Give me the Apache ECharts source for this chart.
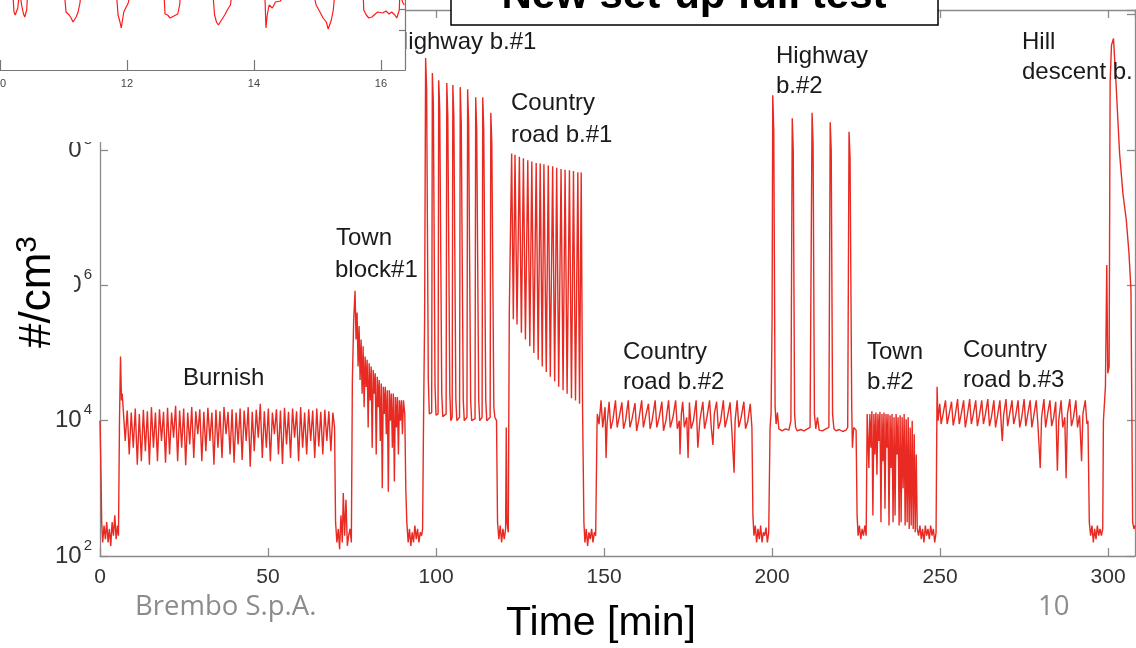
<!DOCTYPE html>
<html>
<head>
<meta charset="utf-8">
<script src="https://cdn.jsdelivr.net/npm/echarts@6/dist/echarts.min.js"></script>
<style>
html, body { margin: 0; padding: 0; background: #fff; }
#chart { width: 1136px; height: 648px; }
</style>
</head>
<body>
<div id="chart"></div>
<script>
// main trace: [time (min), log10 of concentration (#/cm3)]
const startBase = [[0, 4.0], [0.3, 3.2], [0.5, 2.5], [0.8, 2.2], [1.2, 2.45], [1.6, 2.25], [2.0, 2.5], [2.4, 2.2], [2.8, 2.4], [3.2, 2.15], [3.6, 2.5], [4.0, 2.3], [4.4, 2.6], [4.8, 2.25], [5.2, 2.45], [5.5, 2.3], [5.8, 4.0], [6.1, 4.95], [6.4, 4.3]]

const burnish = [[6.6, 4.4], [7.0, 4.1], [7.5, 3.7], [8.1, 4.15], [8.7, 3.5], [9.3, 4.12], [9.9, 3.6], [10.5, 4.18], [11.1, 3.35], [11.7, 4.1], [12.3, 3.4], [12.9, 4.16], [13.5, 3.55], [14.1, 4.14], [14.7, 3.35], [15.3, 4.2], [15.9, 3.6], [16.5, 4.12], [17.1, 3.4], [17.7, 4.17], [18.3, 3.7], [18.9, 4.13], [19.5, 3.38], [20.1, 4.19], [20.7, 3.5], [21.3, 4.12], [21.9, 3.75], [22.5, 4.22], [23.1, 3.4], [23.7, 4.15], [24.3, 3.6], [24.9, 4.18], [25.5, 3.34], [26.1, 4.12], [26.7, 3.65], [27.3, 4.2], [27.9, 3.45], [28.5, 4.14], [29.1, 3.8], [29.7, 4.17], [30.3, 3.4], [30.9, 4.13], [31.5, 3.55], [32.1, 4.19], [32.7, 3.7], [33.3, 4.12], [33.9, 3.35], [34.5, 4.16], [35.1, 3.6], [35.7, 4.14], [36.3, 3.45], [36.9, 4.2], [37.5, 3.8], [38.1, 4.13], [38.7, 3.5], [39.3, 4.17], [39.9, 3.38], [40.5, 4.12], [41.1, 3.65], [41.7, 4.18], [42.3, 3.42], [42.9, 4.15], [43.5, 3.7], [44.1, 4.2], [44.7, 3.32], [45.3, 4.13], [45.9, 3.55], [46.5, 4.16], [47.1, 3.75], [47.7, 4.25], [48.3, 3.45], [48.9, 4.14], [49.5, 3.6], [50.1, 4.18], [50.7, 3.4], [51.3, 4.12], [51.9, 3.8], [52.5, 4.17], [53.1, 3.5], [53.7, 4.15], [54.3, 3.36], [54.9, 4.19], [55.5, 3.65], [56.1, 4.13], [56.7, 3.45], [57.3, 4.18], [57.9, 3.75], [58.5, 4.14], [59.1, 3.4], [59.7, 4.2], [60.3, 3.6], [60.9, 4.12], [61.5, 3.5], [62.1, 4.17], [62.7, 3.7], [63.3, 4.15], [63.9, 3.45], [64.5, 4.18], [65.1, 3.62], [65.7, 4.13], [66.3, 3.5], [66.9, 4.16], [67.5, 3.7], [68.1, 4.14], [68.7, 3.55], [69.3, 4.12], [69.8, 3.9]]

const gapAfterBurnish = [[70.1, 2.5], [70.5, 2.2], [70.9, 2.4], [71.3, 2.1], [71.7, 2.6], [72.1, 2.2], [72.4, 2.93], [72.8, 2.3], [73.2, 2.83], [73.6, 2.15], [74.0, 2.3], [74.4, 2.4], [74.8, 2.2]]

const townBlock1 = [[75.1, 4.6], [75.5, 5.5], [75.9, 5.92], [76.2, 5.2], [76.5, 5.6], [76.8, 4.8], [77.1, 5.4], [77.4, 4.6], [77.7, 5.2], [78.0, 4.4], [78.3, 5.1], [78.6, 4.2], [78.9, 4.95], [79.2, 4.5], [79.5, 4.9], [79.8, 3.9], [80.1, 4.85], [80.4, 4.3], [80.7, 4.8], [81.0, 3.6], [81.3, 4.75], [81.6, 4.4], [81.9, 4.7], [82.2, 3.5], [82.5, 4.65], [82.8, 4.2], [83.1, 4.6], [83.4, 3.7], [83.7, 4.55], [84.0, 3.0], [84.3, 4.5], [84.6, 4.1], [84.9, 4.5], [85.2, 3.8], [85.5, 4.45], [85.8, 2.95], [86.1, 4.45], [86.4, 4.0], [86.7, 4.4], [87.0, 3.6], [87.3, 4.4], [87.6, 3.1], [87.9, 4.35], [88.2, 3.9], [88.5, 4.35], [88.8, 3.5], [89.1, 4.3], [89.4, 4.0], [89.7, 4.3], [90.0, 3.8], [90.3, 4.3], [90.7, 4.1], [91.0, 3.0]]

const gapAfterTown1 = [[91.3, 2.5], [91.7, 2.2], [92.1, 2.4], [92.5, 2.15], [92.9, 2.35], [93.3, 2.2], [93.7, 2.45], [94.1, 2.25], [94.5, 2.4], [94.9, 2.2], [95.3, 2.35], [95.7, 2.3]]

const highway1 = [[96.0, 2.4], [96.3, 4.1], [96.6, 5.5], [96.9, 9.36], [97.2, 8.9], [97.7, 4.6], [98.0, 4.1], [98.7, 4.12], [98.9, 9.14], [99.2, 8.7], [99.7, 4.5], [100.0, 4.08], [100.6, 4.1], [100.8, 9.03], [101.1, 8.6], [101.7, 4.4], [102.0, 4.06], [103.0, 4.1], [103.2, 8.99], [103.5, 8.5], [104.1, 4.4], [104.4, 4.0], [104.8, 4.05], [105.0, 8.96], [105.3, 8.5], [105.9, 4.3], [106.2, 4.0], [107.0, 4.05], [107.2, 8.93], [107.5, 8.4], [108.1, 4.3], [108.4, 4.0], [109.2, 4.05], [109.4, 8.9], [109.7, 8.4], [110.3, 4.3], [110.6, 4.0], [111.6, 4.03], [111.8, 8.78], [112.1, 8.3], [112.7, 4.3], [113.0, 4.0], [113.7, 4.05], [113.9, 8.78], [114.2, 8.3], [114.8, 4.3], [115.1, 4.0], [116.1, 4.05], [116.3, 8.55], [116.6, 8.1], [117.2, 4.2], [117.5, 4.05], [118.0, 4.0]]

const gapAfterHighway1 = [[118.3, 2.5], [118.7, 2.25], [119.1, 2.45], [119.5, 2.2], [119.9, 2.4], [120.3, 2.25], [120.7, 2.4], [120.9, 3.9], [121.1, 2.5], [121.5, 2.35]]

const countryRoad1 = [[121.8, 5.6], [122.5, 7.95], [123.0, 5.5], [123.5, 7.93], [124.1, 5.42], [124.8, 7.9], [125.4, 5.3], [126.0, 7.88], [126.6, 5.2], [127.3, 7.85], [127.9, 5.1], [128.5, 7.83], [129.1, 5.0], [129.8, 7.81], [130.4, 4.9], [131.0, 7.8], [131.6, 4.8], [132.1, 7.79], [132.8, 4.72], [133.4, 7.77], [134.0, 4.65], [134.7, 7.76], [135.3, 4.58], [135.9, 7.74], [136.5, 4.5], [137.2, 7.72], [137.8, 4.45], [138.4, 7.71], [139.0, 4.4], [139.7, 7.7], [140.3, 4.33], [140.9, 7.69], [141.5, 4.3], [142.2, 7.67], [142.7, 4.25], [143.2, 7.67], [143.6, 4.2], [144.0, 2.5]]

const gapAfterCountry1 = [[144.3, 2.2], [144.7, 2.4], [145.1, 2.15], [145.5, 2.35], [145.9, 2.25], [146.3, 2.4], [146.7, 2.2], [147.1, 2.35], [147.5, 2.3]]

const countryRoad2 = [[147.9, 3.9], [148.0, 4.1], [148.5, 3.95], [149.1, 4.3], [149.6, 3.9], [150.3, 4.2], [150.6, 3.45], [150.9, 3.95], [151.5, 4.28], [152.0, 3.88], [152.6, 4.0], [153.4, 4.3], [153.9, 3.9], [154.5, 4.05], [155.3, 4.27], [155.8, 3.88], [156.4, 4.0], [157.2, 4.3], [157.7, 3.9], [158.3, 4.02], [159.2, 4.26], [159.7, 3.85], [160.3, 4.0], [161.2, 4.3], [161.7, 3.9], [162.3, 4.05], [163.2, 4.25], [163.7, 3.88], [164.3, 4.0], [165.2, 4.3], [165.7, 3.9], [166.4, 4.05], [167.2, 4.28], [167.7, 3.85], [168.4, 4.0], [169.2, 4.3], [169.7, 3.9], [170.5, 4.05], [171.3, 4.3], [171.8, 3.88], [172.4, 4.0], [172.6, 3.5], [173.0, 4.1], [173.4, 4.28], [173.9, 3.9], [174.6, 4.05], [175.0, 3.45], [175.4, 4.27], [175.9, 3.88], [176.6, 4.0], [177.4, 4.3], [177.9, 3.6], [178.5, 4.0], [179.4, 4.28], [179.9, 3.88], [180.6, 4.05], [181.4, 4.3], [181.9, 3.9], [182.4, 3.64], [182.8, 4.1], [183.5, 4.28], [184.0, 3.88], [184.7, 4.0], [185.5, 4.3], [186.0, 3.9], [186.7, 4.05], [187.5, 4.27], [188.0, 3.88], [188.7, 3.23], [189.0, 4.0], [189.6, 4.3], [190.1, 3.9], [190.8, 4.05], [191.6, 4.28], [192.1, 3.88], [192.8, 4.0], [193.5, 4.25], [194.0, 3.9]]

const gapAfterCountry2 = [[194.3, 2.6], [194.6, 2.3], [195.0, 2.45], [195.4, 2.2], [195.8, 2.4], [196.2, 2.25], [196.6, 2.45], [197.0, 2.2], [197.4, 2.35], [197.8, 2.3], [198.2, 2.42], [198.6, 2.2], [199.0, 2.35], [199.4, 3.9]]

const highway2 = [[199.7, 4.1], [200.0, 5.5], [200.2, 8.81], [200.5, 8.3], [200.9, 4.2], [201.2, 3.95], [201.6, 4.12], [202.0, 3.88], [203.0, 3.85], [204.0, 3.88], [205.0, 3.86], [205.6, 4.0], [206.0, 8.47], [206.3, 8.0], [206.7, 4.1], [207.0, 3.9], [207.5, 3.85], [208.5, 3.87], [209.5, 3.85], [210.5, 3.88], [211.3, 3.9], [211.9, 8.55], [212.2, 8.1], [212.6, 4.1], [213.0, 3.88], [213.5, 4.05], [214.0, 3.86], [215.0, 3.85], [216.0, 3.88], [216.9, 3.9], [217.3, 8.41], [217.6, 8.0], [218.0, 4.1], [218.4, 3.88], [219.0, 3.85], [220.0, 3.87], [221.0, 3.84], [222.0, 3.86], [222.5, 3.9], [222.9, 8.27], [223.2, 7.9], [223.7, 4.2], [223.9, 3.6], [224.3, 3.9], [225.0, 3.86]]

const gapAfterHighway2 = [[225.3, 2.6], [225.6, 2.3], [226.0, 2.45], [226.4, 2.25], [226.8, 2.4], [227.2, 2.3], [227.6, 2.45], [228.0, 2.3]]

const town2 = [[228.3, 4.1], [228.5, 4.12], [228.8, 3.3], [229.1, 4.1], [229.4, 3.6], [229.7, 4.14], [230.0, 2.6], [230.3, 4.1], [230.6, 3.5], [230.9, 4.12], [231.2, 3.2], [231.5, 4.1], [231.8, 3.7], [232.1, 4.13], [232.4, 2.5], [232.7, 4.1], [233.0, 3.4], [233.3, 4.12], [233.6, 2.7], [233.9, 4.1], [234.2, 3.6], [234.5, 4.1], [234.8, 2.45], [235.1, 4.08], [235.4, 3.3], [235.7, 4.1], [236.0, 2.5], [236.3, 4.05], [236.6, 2.6], [236.9, 4.1], [237.2, 3.5], [237.5, 4.05], [237.8, 2.45], [238.1, 4.08], [238.4, 2.5], [238.7, 4.05], [239.0, 3.0], [239.3, 4.1], [239.6, 2.45], [239.9, 4.02], [240.2, 2.5], [240.5, 4.05], [240.8, 2.4], [241.1, 3.9], [241.4, 2.45], [241.7, 4.0], [242.0, 2.4], [242.3, 3.8], [242.6, 2.35], [242.9, 3.5], [243.2, 2.4], [243.6, 2.3]]

const gapAfterTown2 = [[244.0, 2.45], [244.4, 2.25], [244.8, 2.4], [245.2, 2.2], [245.6, 2.45], [246.0, 2.3], [246.4, 2.4], [246.8, 2.25], [247.2, 2.45], [247.6, 2.3], [248.0, 2.4], [248.4, 2.2], [248.8, 2.35], [249.1, 4.5]]

const countryRoad3 = [[249.4, 4.0], [249.9, 4.25], [250.3, 3.95], [250.9, 4.1], [251.6, 4.3], [252.1, 3.95], [252.7, 4.1], [253.4, 4.28], [253.9, 3.93], [254.5, 4.08], [255.2, 4.32], [255.7, 3.95], [256.3, 4.1], [257.0, 4.3], [257.5, 3.9], [258.1, 4.08], [258.8, 4.32], [259.3, 3.95], [259.9, 4.1], [260.6, 4.3], [261.1, 3.92], [261.7, 4.08], [262.4, 4.3], [262.9, 3.95], [263.5, 4.1], [264.2, 4.32], [264.7, 3.92], [265.3, 4.06], [266.0, 4.3], [266.5, 3.9], [267.1, 4.08], [267.8, 4.3], [268.3, 3.85], [268.5, 3.7], [268.9, 4.08], [269.6, 4.32], [270.1, 3.92], [270.7, 4.1], [271.4, 4.3], [271.9, 3.95], [272.5, 4.08], [273.2, 4.3], [273.7, 3.9], [274.3, 4.05], [275.0, 4.32], [275.5, 3.92], [276.1, 4.1], [276.8, 4.3], [277.3, 3.9], [277.9, 4.08], [278.6, 4.3], [279.1, 3.95], [279.8, 3.3], [280.2, 4.05], [280.9, 4.32], [281.4, 3.9], [282.0, 4.1], [282.7, 4.3], [283.2, 3.92], [283.8, 4.05], [284.4, 4.28], [284.9, 3.26], [285.3, 4.0], [286.0, 4.3], [286.5, 3.9], [287.1, 4.05], [287.5, 3.15], [287.9, 4.1], [288.6, 4.32], [289.1, 3.92], [289.7, 4.05], [290.4, 4.3], [290.9, 3.9], [291.5, 4.08], [292.1, 3.4], [292.5, 4.1], [293.2, 4.3], [293.7, 3.95], [294.0, 4.0]]

const gapAfterCountry3 = [[294.4, 2.5], [294.8, 2.3], [295.2, 2.45], [295.6, 2.2], [296.0, 2.4], [296.4, 2.25], [296.8, 2.45], [297.2, 2.3], [297.6, 2.4], [298.0, 2.3], [298.4, 2.4]]

const hillDescent = [[298.6, 4.0], [299.2, 4.5], [299.6, 6.3], [299.9, 4.7], [300.3, 4.8], [300.6, 9.0], [301.0, 9.55], [301.6, 9.65], [302.4, 8.94], [303.4, 7.96], [304.4, 7.36], [305.4, 6.97], [306.2, 6.48], [306.8, 5.93], [307.3, 2.5], [307.7, 2.4], [308.0, 2.45]]

// inset trace (top-left crop of another plot): [x, y]; y above 70 runs off the top
const insetLine = [[10.0, 80], [10.2, 80], [10.22, 58], [10.24, 55], [10.28, 62], [10.31, 80], [10.34, 65], [10.37, 56], [10.39, 53], [10.42, 60], [10.44, 80],
  [11.01, 80], [11.04, 58], [11.09, 55], [11.12, 52], [11.15, 48], [11.2, 53], [11.23, 58], [11.26, 67], [11.28, 80],
  [11.83, 80], [11.86, 55], [11.89, 48], [11.91, 42], [11.93, 50], [11.95, 58], [11.98, 62], [12.02, 67], [12.05, 65], [12.06, 80],
  [12.58, 80], [12.6, 56], [12.64, 55], [12.68, 52], [12.71, 50], [12.74, 54], [12.77, 52], [12.8, 56], [12.83, 65], [12.85, 80],
  [13.35, 80], [13.38, 55], [13.41, 48], [13.44, 45], [13.46, 45], [13.49, 50], [13.54, 55], [13.58, 60], [13.63, 65], [13.66, 80],
  [14.17, 80], [14.19, 42], [14.21, 55], [14.24, 65], [14.29, 62], [14.34, 68], [14.37, 66], [14.42, 69], [14.46, 80],
  [14.93, 80], [14.98, 65], [15.04, 58], [15.09, 52], [15.14, 48], [15.17, 41], [15.22, 50], [15.25, 60], [15.28, 80],
  [15.72, 80], [15.73, 60], [15.77, 55], [15.81, 52], [15.86, 53], [15.91, 56], [15.95, 58], [15.98, 60], [16.03, 57], [16.08, 59], [16.13, 56], [16.17, 58], [16.22, 55], [16.25, 52], [16.29, 60], [16.3, 80], [16.34, 68], [16.37, 65]]

const mainTrace = [].concat(startBase, burnish, gapAfterBurnish, townBlock1, gapAfterTown1,
  highway1, gapAfterHighway1, countryRoad1, gapAfterCountry1, countryRoad2, gapAfterCountry2,
  highway2, gapAfterHighway2, town2, gapAfterTown2, countryRoad3, gapAfterCountry3, hillDescent)

const FONT = '"Liberation Sans", Arial, sans-serif'
const axisGray = '#8a8a8a'
const red = '#e82a22'

const frameAxis = {
  axisLine: { show: true, onZero: false, lineStyle: { color: axisGray, width: 1.3 } },
  axisTick: { show: true, inside: true, length: 8, lineStyle: { color: axisGray, width: 1.3 } },
  splitLine: { show: false }
}

function annotation(text, x, y) {
  return {
    type: 'text', x, y, z: 3,
    style: { text, fill: '#1a1a1a', font: '24px ' + FONT, align: 'left', verticalAlign: 'middle', textAlign: 'left', textVerticalAlign: 'middle' }
  }
}

function whiteBox(x, y, width, height, z) {
  return { type: 'rect', z, shape: { x, y, width, height }, style: { fill: '#fff' } }
}

const chart = echarts.init(document.getElementById('chart'))

chart.setOption({
  animation: false,
  backgroundColor: '#fff',
  grid: [
    { left: 100, top: 10, width: 1035, height: 546, outerBoundsMode: 'none', containLabel: false },
    { left: 0, top: 0, width: 405, height: 70, outerBoundsMode: 'none', containLabel: false }
  ],
  xAxis: [
    Object.assign({}, frameAxis, {
      gridIndex: 0, type: 'value', position: 'bottom', min: 0, max: 308, interval: 50,
      axisLabel: { fontSize: 21, color: '#333', fontFamily: FONT, margin: 11, showMaxLabel: false }
    }),
    Object.assign({}, frameAxis, {
      gridIndex: 0, type: 'value', position: 'top', min: 0, max: 308, interval: 50,
      axisLabel: { show: false }
    }),
    {
      gridIndex: 1, type: 'value', position: 'bottom', min: 10, max: 16.38, interval: 2, z: 12,
      axisLine: { show: true, onZero: false, lineStyle: { color: '#777', width: 1.2 } },
      axisTick: { show: true, inside: true, length: 10, lineStyle: { color: '#777', width: 1.2 } },
      axisLabel: { fontSize: 11, color: '#444', fontFamily: FONT, margin: 8, showMaxLabel: false },
      splitLine: { show: false }
    }
  ],
  yAxis: [
    Object.assign({}, frameAxis, {
      gridIndex: 0, type: 'value', position: 'left', min: 2, max: 10.07, interval: 2,
      axisLabel: {
        margin: 8, showMaxLabel: false,
        formatter: (v) => (Number.isInteger(v) ? `{b|10}{s|${v}}` : ''),
        rich: {
          b: { fontSize: 24, color: '#333', fontFamily: FONT, lineHeight: 36 },
          s: { fontSize: 15, color: '#333', fontFamily: FONT, verticalAlign: 'top', padding: [0, 0, 0, 2] }
        }
      }
    }),
    Object.assign({}, frameAxis, {
      gridIndex: 0, type: 'value', position: 'right', min: 2, max: 10.07, interval: 2,
      axisLabel: { show: false }
    }),
    {
      gridIndex: 1, type: 'value', position: 'right', min: 0, max: 70, z: 12,
      axisLine: { show: true, onZero: false, lineStyle: { color: '#777', width: 1.2 } },
      axisTick: { show: true, inside: true, length: 6, customValues: [40, 61], lineStyle: { color: '#777', width: 1.2 } },
      axisLabel: { show: false },
      splitLine: { show: false }
    }
  ],
  series: [
    {
      type: 'line', xAxisIndex: 0, yAxisIndex: 0, data: mainTrace, z: 2,
      showSymbol: false, symbol: 'none',
      lineStyle: { color: red, width: 1.4 }
    },
    {
      type: 'line', xAxisIndex: 2, yAxisIndex: 2, data: insetLine, z: 13, clip: true,
      showSymbol: false, symbol: 'none',
      lineStyle: { color: '#ff1a1a', width: 1.2 }
    }
  ],
  graphic: [
    annotation('Burnish', 183, 378),
    annotation('Town', 336, 238),
    annotation('block#1', 335, 270),
    annotation('Highway b.#1', 391, 42),
    annotation('Country', 511, 103),
    annotation('road b.#1', 511, 135),
    annotation('Highway', 776, 56),
    annotation('b.#2', 776, 86),
    annotation('Country', 623, 352),
    annotation('road b.#2', 623, 382),
    annotation('Town', 867, 352),
    annotation('b.#2', 867, 382),
    annotation('Country', 963, 350),
    annotation('road b.#3', 963, 380),
    annotation('Hill', 1022, 42),
    annotation('descent b.', 1022, 72),
    // pasted inset and y-label boxes hide parts of the main frame
    whiteBox(0, 0, 405, 95, 10),
    whiteBox(0, 95, 110, 47, 10),
    whiteBox(0, 142, 68.5, 80, 10),
    whiteBox(0, 222, 74, 80, 10),
    {
      type: 'text', x: 38, y: 292, rotation: Math.PI / 2, z: 11,
      style: {
        text: '{a|#/cm}{b|3}', align: 'center', verticalAlign: 'middle', textAlign: 'center', textVerticalAlign: 'middle',
        rich: {
          a: { fontSize: 44, fontFamily: FONT, fill: '#000', color: '#000', lineHeight: 50 },
          b: { fontSize: 30, fontFamily: FONT, fill: '#000', color: '#000', verticalAlign: 'top' }
        }
      }
    },
    {
      type: 'rect', z: 14, shape: { x: 451, y: -10, width: 487, height: 35 },
      style: { fill: '#fff', stroke: '#000', lineWidth: 1.5 }
    },
    {
      type: 'text', x: 694, y: -4, z: 15,
      style: { text: 'New set-up full test', fill: '#000', font: 'bold 42px ' + FONT, align: 'center', verticalAlign: 'middle', textAlign: 'center', textVerticalAlign: 'middle' }
    },
    {
      type: 'text', x: 601, y: 624, z: 3,
      style: { text: 'Time [min]', fill: '#000', font: '41px ' + FONT, align: 'center', verticalAlign: 'middle', textAlign: 'center', textVerticalAlign: 'middle' }
    },
    {
      type: 'text', x: 135, y: 607, z: 3,
      style: { text: 'Brembo S.p.A.', fill: '#8c8c8c', font: '27.5px "Open Sans", sans-serif', align: 'left', verticalAlign: 'middle', textAlign: 'left', textVerticalAlign: 'middle' }
    },
    {
      type: 'text', x: 1038, y: 607, z: 3,
      style: { text: '10', fill: '#8c8c8c', font: '27.5px "Open Sans", sans-serif', align: 'left', verticalAlign: 'middle', textAlign: 'left', textVerticalAlign: 'middle' }
    }
  ]
})
</script>
</body>
</html>
